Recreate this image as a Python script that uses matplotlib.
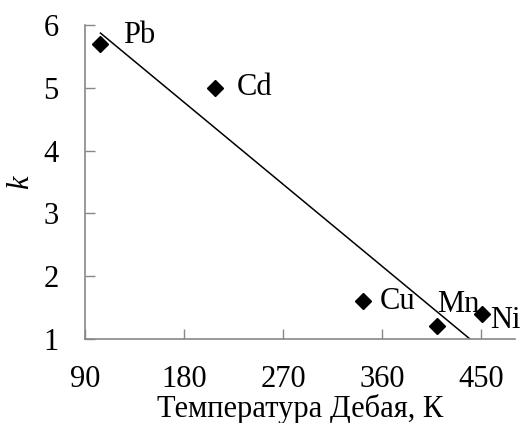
import numpy as np
import matplotlib
matplotlib.use("Agg")
import matplotlib.pyplot as plt

plt.rcParams['font.family'] = ['Liberation Serif', 'DejaVu Serif']

# Debye temperature (K) and coefficient k for each metal
metals = ['Pb', 'Cd', 'Cu', 'Mn', 'Ni']
debye_t = [104, 208, 343, 410, 451]
k_vals = [5.7, 5.0, 1.6, 1.2, 1.4]
x_ticks = [90, 180, 270, 360, 450]
y_ticks = [1, 2, 3, 4, 5, 6]

# label offsets in points
offsets = [(16, 6), (16, 0), (12, 0), (0, 16), (6, -5)]

fig = plt.figure(figsize=(5.22, 4.23), dpi=100)
ax = fig.add_axes([0.163, 0.199, 0.824, 0.742])

ax.plot(debye_t, k_vals, linestyle='none', marker='D', color='black', markersize=8.5, zorder=3)

# linear trend line across the data range
coef = np.polyfit(debye_t, k_vals, 1)
xs = np.array([min(debye_t), max(debye_t)])
ax.plot(xs, np.polyval(coef, xs), color='black', linewidth=1.1)

for name, x, y, off in zip(metals, debye_t, k_vals, offsets):
    ax.annotate(name, (x, y), xytext=off, textcoords='offset points',
                fontsize=22, ha='left', va='center', annotation_clip=False)

ax.set_xlim(90, 481)
ax.set_ylim(1, 6)
ax.set_xticks(x_ticks)
ax.set_yticks(y_ticks)
ax.tick_params(direction='in', length=7, width=1, color='#888888', labelsize=22)
ax.tick_params(axis='x', pad=19)
ax.tick_params(axis='y', pad=19)

for side in ['top', 'right']:
    ax.spines[side].set_visible(False)
for side in ['left', 'bottom']:
    ax.spines[side].set_color('#888888')
    ax.spines[side].set_linewidth(1.2)

ax.set_xlabel('Температура Дебая, К', fontsize=22, labelpad=0)
ax.set_ylabel('k', fontsize=22, style='italic', labelpad=6)

fig.savefig('out.png', dpi=100)
